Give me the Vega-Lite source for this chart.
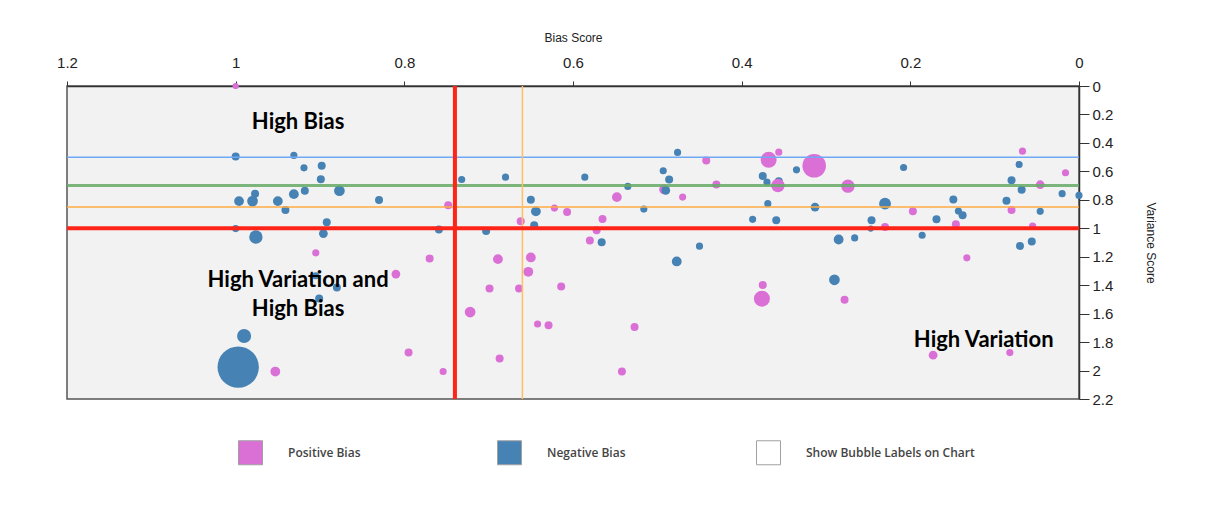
{
  "$schema": "https://vega.github.io/schema/vega-lite/v6.json",
  "width": 1012,
  "height": 313,
  "autosize": {"type": "none"},
  "padding": {"left": 67, "top": 86, "right": 131, "bottom": 107},
  "background": "white",
  "config": {
    "view": {"fill": "#f2f2f2", "stroke": "#555555", "strokeWidth": 1.5},
    "font": "Liberation Sans Narrow, Liberation Sans, sans-serif"
  },
  "datasets": {
    "bubbles": [
      {"bias": 1.000, "variance": 0.000, "weight": 0.6, "type": "Positive Bias"},
      {"bias": 1.000, "variance": 0.495, "weight": 1, "type": "Negative Bias"},
      {"bias": 0.931, "variance": 0.488, "weight": 0.8, "type": "Negative Bias"},
      {"bias": 0.919, "variance": 0.575, "weight": 0.8, "type": "Negative Bias"},
      {"bias": 0.898, "variance": 0.561, "weight": 1, "type": "Negative Bias"},
      {"bias": 0.899, "variance": 0.655, "weight": 1, "type": "Negative Bias"},
      {"bias": 0.977, "variance": 0.757, "weight": 1, "type": "Negative Bias"},
      {"bias": 0.996, "variance": 0.809, "weight": 1.5, "type": "Negative Bias"},
      {"bias": 0.980, "variance": 0.809, "weight": 1.8, "type": "Negative Bias"},
      {"bias": 0.950, "variance": 0.809, "weight": 1.5, "type": "Negative Bias"},
      {"bias": 0.931, "variance": 0.760, "weight": 1.5, "type": "Negative Bias"},
      {"bias": 0.918, "variance": 0.736, "weight": 1, "type": "Negative Bias"},
      {"bias": 0.941, "variance": 0.872, "weight": 1, "type": "Negative Bias"},
      {"bias": 0.877, "variance": 0.736, "weight": 1.8, "type": "Negative Bias"},
      {"bias": 0.830, "variance": 0.802, "weight": 1, "type": "Negative Bias"},
      {"bias": 0.748, "variance": 0.839, "weight": 1, "type": "Positive Bias"},
      {"bias": 1.000, "variance": 1.002, "weight": 0.8, "type": "Negative Bias"},
      {"bias": 0.976, "variance": 1.061, "weight": 2.8, "type": "Negative Bias"},
      {"bias": 0.892, "variance": 0.958, "weight": 1, "type": "Negative Bias"},
      {"bias": 0.896, "variance": 1.037, "weight": 1.2, "type": "Negative Bias"},
      {"bias": 0.759, "variance": 1.009, "weight": 1, "type": "Negative Bias"},
      {"bias": 0.732, "variance": 0.657, "weight": 0.8, "type": "Negative Bias"},
      {"bias": 0.680, "variance": 0.641, "weight": 0.8, "type": "Negative Bias"},
      {"bias": 0.703, "variance": 1.019, "weight": 1, "type": "Negative Bias"},
      {"bias": 0.662, "variance": 0.951, "weight": 1, "type": "Positive Bias"},
      {"bias": 0.650, "variance": 0.799, "weight": 1, "type": "Negative Bias"},
      {"bias": 0.644, "variance": 0.881, "weight": 1.5, "type": "Negative Bias"},
      {"bias": 0.646, "variance": 0.979, "weight": 1, "type": "Negative Bias"},
      {"bias": 0.622, "variance": 0.858, "weight": 0.8, "type": "Positive Bias"},
      {"bias": 0.607, "variance": 0.886, "weight": 1, "type": "Positive Bias"},
      {"bias": 0.586, "variance": 0.641, "weight": 0.8, "type": "Negative Bias"},
      {"bias": 0.548, "variance": 0.781, "weight": 1.5, "type": "Positive Bias"},
      {"bias": 0.535, "variance": 0.706, "weight": 0.8, "type": "Negative Bias"},
      {"bias": 0.516, "variance": 0.865, "weight": 0.8, "type": "Negative Bias"},
      {"bias": 0.565, "variance": 0.935, "weight": 1, "type": "Positive Bias"},
      {"bias": 0.572, "variance": 1.014, "weight": 1, "type": "Positive Bias"},
      {"bias": 0.580, "variance": 1.086, "weight": 1, "type": "Positive Bias"},
      {"bias": 0.566, "variance": 1.098, "weight": 1, "type": "Negative Bias"},
      {"bias": 0.493, "variance": 0.596, "weight": 0.8, "type": "Negative Bias"},
      {"bias": 0.486, "variance": 0.657, "weight": 1, "type": "Negative Bias"},
      {"bias": 0.476, "variance": 0.467, "weight": 0.8, "type": "Negative Bias"},
      {"bias": 0.492, "variance": 0.727, "weight": 1.5, "type": "Positive Bias"},
      {"bias": 0.490, "variance": 0.734, "weight": 1.2, "type": "Negative Bias"},
      {"bias": 0.470, "variance": 0.781, "weight": 0.8, "type": "Positive Bias"},
      {"bias": 0.442, "variance": 0.523, "weight": 1, "type": "Positive Bias"},
      {"bias": 0.430, "variance": 0.692, "weight": 1, "type": "Positive Bias"},
      {"bias": 0.450, "variance": 1.126, "weight": 0.8, "type": "Negative Bias"},
      {"bias": 0.387, "variance": 0.937, "weight": 0.8, "type": "Negative Bias"},
      {"bias": 0.375, "variance": 0.633, "weight": 1, "type": "Negative Bias"},
      {"bias": 0.370, "variance": 0.676, "weight": 0.8, "type": "Negative Bias"},
      {"bias": 0.369, "variance": 0.827, "weight": 0.8, "type": "Negative Bias"},
      {"bias": 0.359, "variance": 0.944, "weight": 1, "type": "Negative Bias"},
      {"bias": 0.368, "variance": 0.519, "weight": 4, "type": "Positive Bias"},
      {"bias": 0.356, "variance": 0.465, "weight": 0.8, "type": "Positive Bias"},
      {"bias": 0.356, "variance": 0.669, "weight": 1, "type": "Negative Bias"},
      {"bias": 0.357, "variance": 0.699, "weight": 2.8, "type": "Positive Bias"},
      {"bias": 0.335, "variance": 0.589, "weight": 0.8, "type": "Negative Bias"},
      {"bias": 0.314, "variance": 0.561, "weight": 8.7, "type": "Positive Bias"},
      {"bias": 0.313, "variance": 0.851, "weight": 1.2, "type": "Negative Bias"},
      {"bias": 0.274, "variance": 0.704, "weight": 2.8, "type": "Positive Bias"},
      {"bias": 0.285, "variance": 1.079, "weight": 1.5, "type": "Negative Bias"},
      {"bias": 0.266, "variance": 1.068, "weight": 0.8, "type": "Negative Bias"},
      {"bias": 0.246, "variance": 0.944, "weight": 1, "type": "Negative Bias"},
      {"bias": 0.247, "variance": 1.002, "weight": 0.6, "type": "Negative Bias"},
      {"bias": 0.230, "variance": 0.991, "weight": 1, "type": "Positive Bias"},
      {"bias": 0.230, "variance": 0.827, "weight": 2.2, "type": "Negative Bias"},
      {"bias": 0.208, "variance": 0.573, "weight": 0.8, "type": "Negative Bias"},
      {"bias": 0.197, "variance": 0.881, "weight": 1, "type": "Positive Bias"},
      {"bias": 0.186, "variance": 1.049, "weight": 0.8, "type": "Negative Bias"},
      {"bias": 0.169, "variance": 0.937, "weight": 1, "type": "Negative Bias"},
      {"bias": 0.149, "variance": 0.797, "weight": 1, "type": "Negative Bias"},
      {"bias": 0.143, "variance": 0.879, "weight": 0.8, "type": "Negative Bias"},
      {"bias": 0.138, "variance": 0.909, "weight": 1, "type": "Negative Bias"},
      {"bias": 0.146, "variance": 0.972, "weight": 1, "type": "Positive Bias"},
      {"bias": 0.086, "variance": 0.806, "weight": 1, "type": "Negative Bias"},
      {"bias": 0.080, "variance": 0.872, "weight": 1, "type": "Positive Bias"},
      {"bias": 0.080, "variance": 0.662, "weight": 1, "type": "Negative Bias"},
      {"bias": 0.071, "variance": 0.552, "weight": 0.8, "type": "Negative Bias"},
      {"bias": 0.067, "variance": 0.458, "weight": 0.8, "type": "Positive Bias"},
      {"bias": 0.068, "variance": 0.729, "weight": 1, "type": "Negative Bias"},
      {"bias": 0.046, "variance": 0.694, "weight": 1.2, "type": "Positive Bias"},
      {"bias": 0.046, "variance": 0.881, "weight": 0.8, "type": "Negative Bias"},
      {"bias": 0.055, "variance": 0.984, "weight": 0.8, "type": "Positive Bias"},
      {"bias": 0.070, "variance": 1.124, "weight": 1, "type": "Negative Bias"},
      {"bias": 0.056, "variance": 1.093, "weight": 1, "type": "Negative Bias"},
      {"bias": 0.016, "variance": 0.610, "weight": 0.8, "type": "Positive Bias"},
      {"bias": 0.020, "variance": 0.757, "weight": 0.8, "type": "Negative Bias"},
      {"bias": 0.000, "variance": 0.769, "weight": 0.8, "type": "Negative Bias"},
      {"bias": 0.905, "variance": 1.173, "weight": 0.8, "type": "Positive Bias"},
      {"bias": 0.905, "variance": 1.334, "weight": 0.8, "type": "Negative Bias"},
      {"bias": 0.880, "variance": 1.416, "weight": 1, "type": "Negative Bias"},
      {"bias": 0.901, "variance": 1.493, "weight": 1, "type": "Negative Bias"},
      {"bias": 0.810, "variance": 1.322, "weight": 1.2, "type": "Positive Bias"},
      {"bias": 0.770, "variance": 1.212, "weight": 1, "type": "Positive Bias"},
      {"bias": 0.990, "variance": 1.757, "weight": 3.1, "type": "Negative Bias"},
      {"bias": 0.997, "variance": 1.976, "weight": 26.7, "type": "Negative Bias"},
      {"bias": 0.953, "variance": 2.007, "weight": 1.5, "type": "Positive Bias"},
      {"bias": 0.795, "variance": 1.874, "weight": 1, "type": "Positive Bias"},
      {"bias": 0.754, "variance": 2.007, "weight": 0.8, "type": "Positive Bias"},
      {"bias": 0.722, "variance": 1.589, "weight": 1.8, "type": "Positive Bias"},
      {"bias": 0.699, "variance": 1.423, "weight": 1, "type": "Positive Bias"},
      {"bias": 0.689, "variance": 1.217, "weight": 1.5, "type": "Positive Bias"},
      {"bias": 0.687, "variance": 1.916, "weight": 1, "type": "Positive Bias"},
      {"bias": 0.664, "variance": 1.423, "weight": 1, "type": "Positive Bias"},
      {"bias": 0.650, "variance": 1.205, "weight": 1.5, "type": "Positive Bias"},
      {"bias": 0.653, "variance": 1.306, "weight": 1.5, "type": "Positive Bias"},
      {"bias": 0.642, "variance": 1.673, "weight": 0.8, "type": "Positive Bias"},
      {"bias": 0.629, "variance": 1.682, "weight": 1, "type": "Positive Bias"},
      {"bias": 0.614, "variance": 1.409, "weight": 1, "type": "Positive Bias"},
      {"bias": 0.542, "variance": 2.007, "weight": 1, "type": "Positive Bias"},
      {"bias": 0.527, "variance": 1.694, "weight": 1, "type": "Positive Bias"},
      {"bias": 0.477, "variance": 1.233, "weight": 1.5, "type": "Negative Bias"},
      {"bias": 0.375, "variance": 1.399, "weight": 1, "type": "Positive Bias"},
      {"bias": 0.376, "variance": 1.495, "weight": 4, "type": "Positive Bias"},
      {"bias": 0.290, "variance": 1.362, "weight": 1.8, "type": "Negative Bias"},
      {"bias": 0.278, "variance": 1.502, "weight": 1, "type": "Positive Bias"},
      {"bias": 0.133, "variance": 1.208, "weight": 0.8, "type": "Positive Bias"},
      {"bias": 0.173, "variance": 1.892, "weight": 1.2, "type": "Positive Bias"},
      {"bias": 0.082, "variance": 1.874, "weight": 0.8, "type": "Positive Bias"}
    ],
    "notes": [
      {"bias": 0.926, "variance": 0.25, "label": "High Bias"},
      {"bias": 0.926, "variance": 1.364, "label": ["High Variation and", "High Bias"]},
      {"bias": 0.113, "variance": 1.785, "label": "High Variation"}
    ]
  },
  "layer": [
    {
      "data": {"name": "bubbles"},
      "mark": {"type": "circle", "opacity": 1},
      "encoding": {
        "x": {
          "field": "bias", "type": "quantitative",
          "scale": {"domain": [0, 1.2], "reverse": true, "nice": false, "zero": false},
          "axis": {
            "orient": "top", "title": "Bias Score", "values": [0, 0.2, 0.4, 0.6, 0.8, 1, 1.2], "tickCount": 20,
            "format": "~g", "grid": false, "labelFlush": false, "labelOverlap": false,
            "labelFontSize": 15, "labelColor": "#222222", "labelPadding": 11,
            "tickSize": 5, "tickColor": "#333333", "domainColor": "#333333", "domainWidth": 1.5,
            "titleFontSize": 12, "titleFontWeight": "normal", "titleColor": "#222222", "titlePadding": 11
          }
        },
        "y": {
          "field": "variance", "type": "quantitative",
          "scale": {"domain": [0, 2.2], "reverse": true, "nice": false, "zero": false},
          "axis": {
            "orient": "right", "title": "Variance Score",
            "values": [0, 0.2, 0.4, 0.6, 0.8, 1, 1.2, 1.4, 1.6, 1.8, 2, 2.2], "tickCount": 20,
            "format": "~g", "grid": false, "labelFlush": false, "labelOverlap": false,
            "labelFontSize": 15, "labelColor": "#222222", "labelPadding": 3,
            "tickSize": 10, "tickColor": "#333333", "domainColor": "#333333", "domainWidth": 1.5,
            "titleFontSize": 12, "titleFontWeight": "normal", "titleColor": "#222222",
            "titleAngle": 90, "titlePadding": 31
          }
        },
        "size": {
          "field": "weight", "type": "quantitative",
          "scale": {"type": "linear", "domain": [0, 27], "range": [0, 1728], "zero": true},
          "legend": null
        },
        "color": {
          "field": "type", "type": "nominal",
          "scale": {
            "domain": ["Positive Bias", "Negative Bias", "Show Bubble Labels on Chart"],
            "range": ["#da70d6", "#4682b4", "#ffffff"]
          },
          "legend": {
            "orient": "none", "legendX": 171, "legendY": 354, "direction": "horizontal",
            "columns": 3, "gridAlign": "all", "columnPadding": 38, "padding": 0,
            "symbolType": "square", "symbolSize": 576, "symbolStrokeWidth": 1, "symbolStrokeColor": "#a0a0a0", "symbolOpacity": 1,
            "labelOffset": 25, "labelFont": "Open Sans", "labelFontSize": 12, "labelFontWeight": 600,
            "labelColor": "#444444", "labelLimit": 300, "title": null
          }
        }
      }
    },
    {
      "data": {"values": [{}]},
      "mark": {"type": "rule", "color": "#6fa8f5", "strokeWidth": 1.5},
      "encoding": {"y": {"datum": 0.5, "type": "quantitative"}}
    },
    {
      "data": {"values": [{}]},
      "mark": {"type": "rule", "color": "#66aa66", "strokeWidth": 3, "opacity": 0.85},
      "encoding": {"y": {"datum": 0.7, "type": "quantitative"}}
    },
    {
      "data": {"values": [{}]},
      "mark": {"type": "rule", "color": "#ffad42", "strokeWidth": 1.5},
      "encoding": {"y": {"datum": 0.85, "type": "quantitative"}}
    },
    {
      "data": {"values": [{}]},
      "mark": {"type": "rule", "color": "#ffbf66", "strokeWidth": 1.5},
      "encoding": {"x": {"datum": 0.66, "type": "quantitative"}}
    },
    {
      "data": {"values": [{}]},
      "mark": {"type": "rule", "color": "#ff2418", "strokeWidth": 4},
      "encoding": {"y": {"datum": 1.0, "type": "quantitative"}}
    },
    {
      "data": {"values": [{}]},
      "mark": {"type": "rule", "color": "#ff2418", "strokeWidth": 4},
      "encoding": {"x": {"datum": 0.74, "type": "quantitative"}}
    },
    {
      "data": {"name": "notes"},
      "mark": {"type": "text", "font": "Lato", "fontWeight": "bold", "fontSize": 22, "lineHeight": 29, "align": "center", "baseline": "middle", "color": "#000000"},
      "encoding": {
        "x": {"field": "bias", "type": "quantitative"},
        "y": {"field": "variance", "type": "quantitative"},
        "text": {"field": "label"}
      }
    }
  ]
}
